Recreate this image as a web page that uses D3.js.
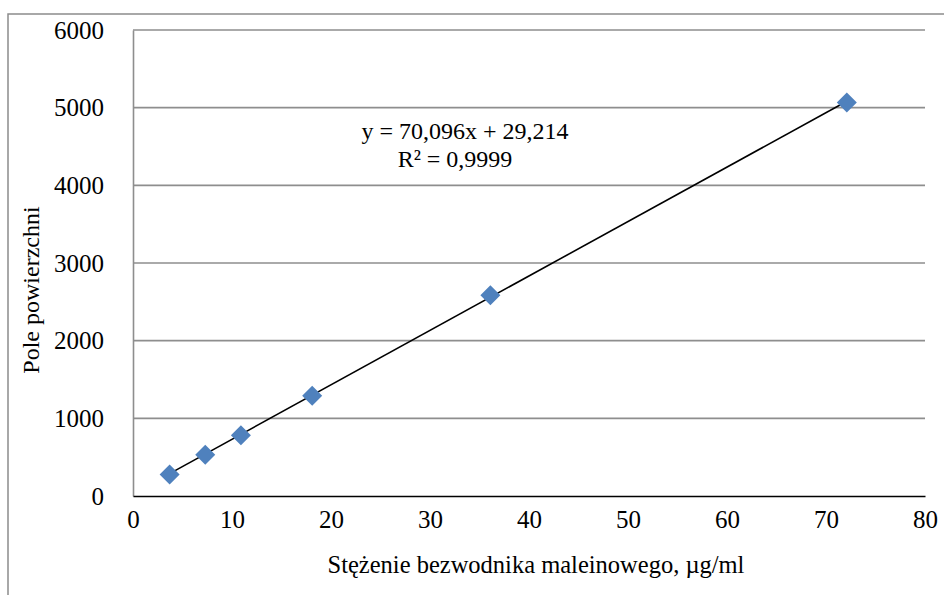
<!DOCTYPE html>
<html>
<head>
<meta charset="utf-8">
<script src="https://cdn.jsdelivr.net/npm/d3@7"></script>
<style>
  body { margin: 0; background: #fff; }
</style>
</head>
<body>
<svg id="chart" width="944" height="595"></svg>
<script>
// concentration (µg/ml) and peak area
var conc = [3.7, 7.3, 10.9, 18.1, 36.1, 72.1];
var area = [278, 530, 782, 1290, 2585, 5068];
var xTicks = [0, 10, 20, 30, 40, 50, 60, 70, 80];
var yTicks = [0, 1000, 2000, 3000, 4000, 5000, 6000];
var slope = 70.096, intercept = 29.214;
var eqLines = ["y = 70,096x + 29,214", "R\u00b2 = 0,9999"];

var serif = "'Liberation Serif', 'Times New Roman', 'DejaVu Serif', serif";

function draw() {
  var svg = d3.select("#chart");

  // outer chart frame, cut off at right and bottom
  svg.append("rect")
      .attr("x", 8).attr("y", 14)
      .attr("width", 1000).attr("height", 1000)
      .attr("fill", "none")
      .attr("stroke", "#8c8c8c")
      .attr("stroke-width", 1.5);

  var x = d3.scaleLinear().domain([0, 80]).range([133, 925]);
  var y = d3.scaleLinear().domain([0, 6000]).range([496, 30]);

  // gridlines
  svg.append("g")
      .selectAll("line")
      .data(yTicks.filter(function (d) { return d > 0; }))
      .join("line")
      .attr("x1", x(0)).attr("x2", x(80))
      .attr("y1", function (d) { return y(d); })
      .attr("y2", function (d) { return y(d); })
      .attr("stroke", "#8e8e8e")
      .attr("stroke-width", 1.6);

  // y axis
  var yAxis = svg.append("g")
      .attr("transform", "translate(" + x(0) + ",0)")
      .call(d3.axisLeft(y).tickValues(yTicks).tickSize(0).tickPadding(29).tickFormat(d3.format("d")));
  yAxis.select(".domain").attr("stroke", "#8e8e8e").attr("stroke-width", 1.6);
  yAxis.selectAll("text")
      .style("font-family", serif).style("font-size", "25px")
      .attr("fill", "#000").attr("dy", "0.33em");

  // x axis
  var xAxis = svg.append("g")
      .attr("transform", "translate(0," + y(0) + ")")
      .call(d3.axisBottom(x).tickValues(xTicks).tickSize(0).tickPadding(14).tickFormat(d3.format("d")));
  xAxis.select(".domain").attr("stroke", "#000").attr("stroke-width", 1.6);
  xAxis.selectAll("text")
      .style("font-family", serif).style("font-size", "25px")
      .attr("fill", "#000");

  // trendline over the data range
  var x0 = d3.min(conc), x1 = d3.max(conc);
  svg.append("line")
      .attr("x1", x(x0)).attr("y1", y(slope * x0 + intercept))
      .attr("x2", x(x1)).attr("y2", y(slope * x1 + intercept))
      .attr("stroke", "#000")
      .attr("stroke-width", 1.6);

  // markers
  var diamond = d3.symbol().type(d3.symbolSquare).size(200);
  svg.append("g")
      .selectAll("path")
      .data(conc)
      .join("path")
      .attr("d", diamond)
      .attr("transform", function (d, i) {
        return "translate(" + x(d) + "," + y(area[i]) + ") rotate(45)";
      })
      .attr("fill", "#4f81bd");

  // trendline label
  svg.append("g")
      .selectAll("text")
      .data(eqLines)
      .join("text")
      .attr("x", function (d, i) { return i === 0 ? 465 : 455; })
      .attr("y", function (d, i) { return 139 + i * 28; })
      .attr("text-anchor", "middle")
      .style("font-family", serif)
      .style("font-size", "24px")
      .text(function (d) { return d; });

  // axis titles
  svg.append("text")
      .attr("x", 536).attr("y", 573)
      .attr("text-anchor", "middle")
      .style("font-family", serif)
      .style("font-size", "24.5px")
      .text("St\u0119\u017cenie bezwodnika maleinowego, \u00b5g/ml");

  svg.append("text")
      .attr("transform", "translate(39,290) rotate(-90)")
      .attr("text-anchor", "middle")
      .style("font-family", serif)
      .style("font-size", "24px")
      .text("Pole powierzchni");
}

draw();
</script>
</body>
</html>
